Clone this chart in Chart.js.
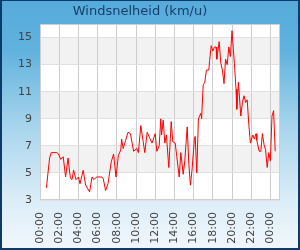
<!DOCTYPE html>
<html>
<head>
<meta charset="utf-8">
<script src="https://cdn.jsdelivr.net/npm/chart.js@4"></script>
<style>
  html, body { margin: 0; padding: 0; background: #ffffff; }
  #wrap { width: 300px; height: 250px; position: relative; }
  canvas { display: block; }
</style>
</head>
<body>
<div id="wrap"><canvas id="c" width="300" height="250"></canvas></div>
<script>
// Time of each reading, minutes after midnight
const times = [40, 60, 70, 105, 115, 130, 145, 160, 175, 190, 200, 210, 225, 240, 250, 270, 285, 310, 325, 335,
  355, 385, 395, 410, 425, 445, 460, 475, 490, 505, 510, 520, 535, 550, 565, 585, 605, 615, 630, 645,
  655, 670, 685, 700, 720, 730, 745, 755, 760, 770, 780, 790, 805, 820, 830, 845, 855, 870, 880, 895,
  905, 920, 930, 940, 950, 965, 970, 980, 990, 1005, 1010, 1020, 1030, 1040, 1055, 1060, 1070, 1080, 1090, 1100,
  1105, 1120, 1130, 1140, 1150, 1160, 1170, 1180, 1190, 1200, 1215, 1225, 1230, 1240, 1255, 1265, 1275, 1285, 1295, 1305,
  1315, 1330, 1340, 1350, 1355, 1370, 1380, 1390, 1400, 1410, 1420, 1430, 1440, 1450, 1460, 1470];
// Wind speed (km/u)
const windSpeed = [3.9, 6.1, 6.5, 6.5, 6.4, 6.0, 6.2, 4.7, 6.1, 4.6, 4.5, 5.2, 4.5, 4.7, 4.2, 5.2, 4.1, 3.6, 4.7, 4.5,
  4.7, 4.7, 4.6, 3.7, 4.2, 5.8, 6.4, 4.7, 6.3, 6.7, 7.5, 6.8, 7.4, 8.0, 7.9, 6.6, 6.8, 6.5, 8.5, 7.3,
  6.5, 8.0, 7.6, 7.2, 7.9, 6.6, 7.0, 9.0, 7.8, 8.9, 7.2, 7.8, 5.4, 8.8, 7.3, 7.2, 6.2, 4.7, 6.5, 4.9,
  5.9, 8.4, 5.7, 4.1, 5.2, 7.5, 7.7, 5.0, 9.0, 9.4, 9.0, 11.5, 11.7, 12.6, 12.6, 13.3, 14.4, 14.0, 14.3, 14.3,
  13.4, 14.7, 13.1, 12.6, 11.6, 13.4, 13.0, 14.3, 13.6, 15.5, 13.1, 11.2, 9.7, 11.7, 9.2, 10.2, 10.7, 10.2, 10.4, 8.6,
  7.2, 7.8, 7.5, 7.9, 7.4, 6.6, 6.6, 7.9, 7.1, 6.7, 5.4, 6.5, 5.9, 9.2, 9.6, 6.6];
const yTicks = [3, 5, 7, 9, 11, 13, 15];
const xTicks = [0, 120, 240, 360, 480, 600, 720, 840, 960, 1080, 1200, 1320, 1440];
const grayBands = [[5, 7], [9, 11], [13, 15]];
const titleText = 'Windsnelheid (km/u)';

const points = times.map((t, i) => ({ x: t, y: windSpeed[i] }));

const decor = {
  id: 'decor',
  beforeDraw(chart) {
    const ctx = chart.ctx, W = chart.width, H = chart.height;
    ctx.save();
    const g = ctx.createLinearGradient(0, 0, 0, H);
    g.addColorStop(0, '#55abdb');
    g.addColorStop(0.2, '#60b2de');
    g.addColorStop(0.5, '#a6d4ec');
    g.addColorStop(0.8, '#dcedf8');
    g.addColorStop(1, '#f1f7fc');
    ctx.fillStyle = g;
    ctx.fillRect(0, 0, W, H);
    ctx.fillStyle = '#0c3a69';
    ctx.fillRect(0, 0, W, 1);
    ctx.fillRect(0, 0, 2, H);
    ctx.fillRect(W - 2, 0, 2, H);
    ctx.fillRect(0, H - 2, W, 2);
    const a = chart.chartArea, ys = chart.scales.y;
    ctx.fillStyle = '#ffffff';
    ctx.fillRect(a.left, a.top, a.right - a.left, a.bottom - a.top);
    ctx.fillStyle = '#f2f2f2';
    grayBands.forEach(([lo, hi]) => {
      const y1 = ys.getPixelForValue(hi), y2 = ys.getPixelForValue(lo);
      ctx.fillRect(a.left, y1, a.right - a.left, y2 - y1);
    });
    ctx.restore();
  },
  afterDraw(chart) {
    const ctx = chart.ctx, a = chart.chartArea;
    ctx.save();
    ctx.strokeStyle = '#cfcfcf';
    ctx.lineWidth = 1;
    ctx.strokeRect(a.left + 0.5, a.top + 0.5, a.right - a.left - 1, a.bottom - a.top - 1);
    ctx.restore();
  }
};

new Chart(document.getElementById('c'), {
  type: 'line',
  data: {
    datasets: [{
      data: points,
      borderColor: '#ff0000',
      borderWidth: 1,
      pointRadius: 0,
      tension: 0,
      fill: false
    }]
  },
  options: {
    responsive: false,
    animation: false,
    layout: { padding: { left: 0, right: 20, top: 0, bottom: 0 } },
    plugins: {
      legend: { display: false },
      tooltip: { enabled: false },
      title: {
        display: true,
        text: titleText,
        color: '#173f6b',
        font: { family: 'DejaVu Sans', size: 13, weight: 'normal' },
        padding: { top: 4, bottom: 4.4 }
      }
    },
    scales: {
      x: {
        type: 'linear',
        min: 0,
        max: 1500,
        afterBuildTicks(s) { s.ticks = xTicks.map(v => ({ value: v })); },
        afterFit(s) { s.height = 50; },
        grid: { color: '#cccccc', drawTicks: false, lineWidth: 1 },
        border: { display: false },
        ticks: {
          minRotation: 90, maxRotation: 90, autoSkip: false, padding: 12,
          color: '#444444',
          font: { family: 'DejaVu Sans', size: 11 },
          callback(v) { const h = Math.floor(v / 60) % 24; return String(h).padStart(2, '0') + ':00'; }
        }
      },
      y: {
        min: 3,
        max: 16,
        afterBuildTicks(s) { s.ticks = yTicks.map(v => ({ value: v })); },
        afterFit(s) { s.width = 40; },
        grid: { color: '#e0e0e0', drawTicks: false, lineWidth: 1 },
        border: { display: false },
        ticks: {
          padding: 8,
          color: '#444444',
          font: { family: 'DejaVu Sans', size: 11 }
        }
      }
    }
  },
  plugins: [decor]
});
</script>
</body>
</html>
